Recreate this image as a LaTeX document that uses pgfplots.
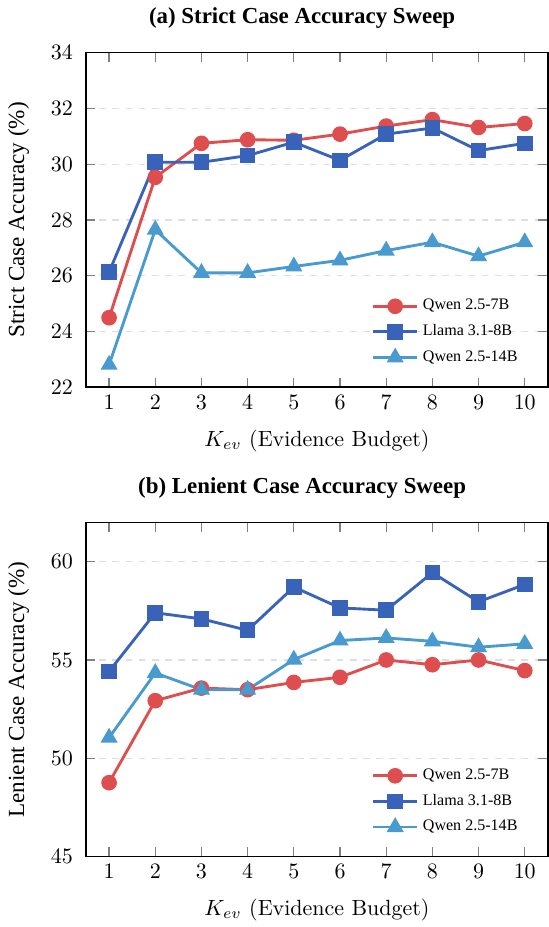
\documentclass[border=0pt]{standalone}
\usepackage{pgfplots}
\pgfplotsset{compat=1.18}
\usetikzlibrary{calc}
\usepackage{fontspec}
\newfontfamily\tms{Liberation Serif}
\definecolor{cred}{RGB}{222,78,78}
\definecolor{cblue}{RGB}{57,99,184}
\definecolor{clight}{RGB}{72,154,207}

\pgfplotsset{
  sweep/.style={
    width=210pt, height=152pt, scale only axis,
    xmin=0.5, xmax=10.5, xtick={1,...,10},
    ymajorgrids, grid style={dashed, gray!25, line width=0.6pt},
    major tick style={gray, line width=0.6pt},
    axis line style={black, line width=0.6pt},
    tick align=inside,
    yticklabel style={xshift=-2.4pt},
    xlabel={$K_{ev}$ (Evidence Budget)},
    xlabel style={yshift=-2.5pt},
    ylabel style={font=\tms\fontsize{10.5}{12}\selectfont,
      at={(axis description cs:-0.146,0.5)}, anchor=center},
    legend style={at={(0.959,0.04)}, anchor=south east, draw=none, fill=none,
      font=\tms\fontsize{7.3}{8.5}\selectfont, row sep=1.2pt},
    legend cell align=left,
    legend image code/.code={\draw[mark repeat=2,mark phase=2] plot coordinates {(0cm,0cm) (0.35cm,0cm) (0.7cm,0cm)};},
    every axis plot/.append style={line width=1.3pt},
  },
  sred/.style={cred, mark=*, mark size=2.9pt, mark options={solid}},
  sblue/.style={cblue, mark=square*, mark size=2.9pt, mark options={solid}},
  slight/.style={clight, mark=triangle*, mark size=3.2pt, mark options={solid}},
}

\begin{document}
\begin{tikzpicture}
\begin{axis}[sweep, name=top, anchor=north west, at={(0,0)},
  ymin=22, ymax=34, ytick={22,24,...,34},
  ylabel={Strict Case Accuracy (\%)}]
\addplot[sred] coordinates {(1,24.49) (2,29.53) (3,30.75) (4,30.88) (5,30.86) (6,31.08) (7,31.37) (8,31.6) (9,31.32) (10,31.46)};
\addplot[sblue] coordinates {(1,26.13) (2,30.07) (3,30.07) (4,30.31) (5,30.79) (6,30.14) (7,31.08) (8,31.3) (9,30.49) (10,30.75)};
\addplot[slight] coordinates {(1,22.8) (2,27.65) (3,26.1) (4,26.1) (5,26.33) (6,26.55) (7,26.9) (8,27.2) (9,26.7) (10,27.2)};
\legend{Qwen 2.5-7B, Llama 3.1-8B, Qwen 2.5-14B}
\end{axis}
\begin{axis}[sweep, name=bot, anchor=north west, at={(0,-213.5pt)},
  ymin=45, ymax=62, ytick={45,50,55,60},
  ylabel={Lenient Case Accuracy (\%)}]
\addplot[sred] coordinates {(1,48.76) (2,52.93) (3,53.57) (4,53.49) (5,53.86) (6,54.12) (7,55.0) (8,54.76) (9,55.0) (10,54.46)};
\addplot[sblue] coordinates {(1,54.42) (2,57.4) (3,57.09) (4,56.51) (5,58.71) (6,57.65) (7,57.53) (8,59.44) (9,57.96) (10,58.84)};
\addplot[slight] coordinates {(1,51.05) (2,54.34) (3,53.49) (4,53.49) (5,55.02) (6,55.99) (7,56.12) (8,55.95) (9,55.65) (10,55.82)};
\legend{Qwen 2.5-7B, Llama 3.1-8B, Qwen 2.5-14B}
\end{axis}
\node[anchor=base, font=\tms\bfseries\fontsize{10.4}{12}\selectfont]
  at ($(top.north west)!0.468!(top.north east)+(0,13.2pt)$) {(a) Strict Case Accuracy Sweep};
\node[anchor=base, font=\tms\bfseries\fontsize{10.4}{12}\selectfont]
  at ($(bot.north west)!0.468!(bot.north east)+(0,12.9pt)$) {(b) Lenient Case Accuracy Sweep};
\pgfresetboundingbox
\path[use as bounding box] (-39.1pt,24pt) rectangle (210.4pt,-397.5pt);
\end{tikzpicture}
\end{document}
